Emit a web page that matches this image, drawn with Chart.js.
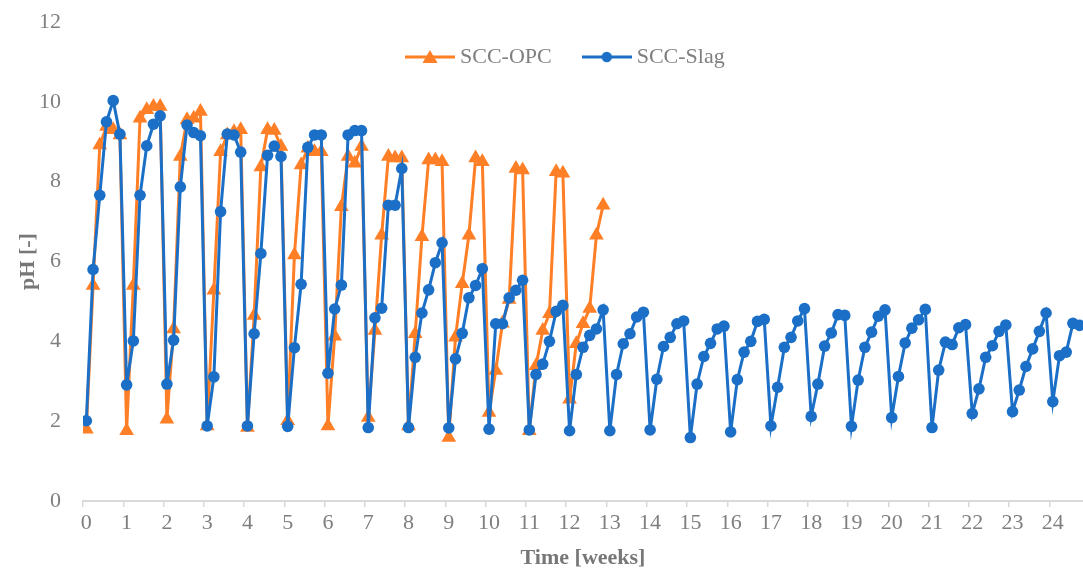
<!DOCTYPE html>
<html>
<head>
<meta charset="utf-8">
<script src="https://cdn.jsdelivr.net/npm/chart.js@4.4.1/dist/chart.umd.min.js"></script>
<style>
  html, body { margin: 0; padding: 0; background: #ffffff; }
  #wrap { width: 1083px; height: 574px; position: relative; }
</style>
</head>
<body>
<div id="wrap"><canvas id="c"></canvas></div>
<script>
// ---- data (6 samples per week) ----
const weekTicks = ['0','1','2','3','4','5','6','7','8','9','10','11','12','13','14','15','16','17','18','19','20','21','22','23','24'];
const samplesPerWeek = 6;
const lastVisibleSample = 148;   // the plotted x range ends here (picture is cut at the right edge)

const sccOpc = [
  1.80, 5.40, 8.92, 9.38, 9.30, 9.17,
  1.76, 5.40, 9.59, 9.80, 9.88, 9.88,
  2.05, 4.31, 8.63, 9.55, 9.59, 9.76,
  1.88, 5.28, 8.75, 9.17, 9.25, 9.30,
  1.84, 4.65, 8.37, 9.30, 9.28, 8.88,
  2.01, 6.16, 8.42, 8.84, 8.75, 8.75,
  1.88, 4.13, 7.37, 8.63, 8.46, 8.88,
  2.09, 4.27, 6.66, 8.63, 8.59, 8.59,
  1.88, 4.19, 6.62, 8.54, 8.54, 8.50,
  1.59, 4.10, 5.44, 6.66, 8.59, 8.50,
  2.22, 3.27, 4.45, 5.05, 8.33, 8.29,
  1.76, 3.39, 4.27, 4.69, 8.25, 8.21,
  2.55, 3.94, 4.44, 4.82, 6.66, 7.41
];

const sccSlag = [
  2.01, 5.80, 7.66, 9.50, 10.03, 9.19,
  2.91, 4.01, 7.66, 8.90, 9.44, 9.65,
  2.93, 4.03, 7.87, 9.42, 9.23, 9.15,
  1.88, 3.11, 7.25, 9.19, 9.17, 8.74,
  1.88, 4.19, 6.20, 8.66, 8.89, 8.63,
  1.87, 3.84, 5.43, 8.86, 9.17, 9.17,
  3.20, 4.81, 5.41, 9.17, 9.28, 9.28,
  1.84, 4.59, 4.83, 7.41, 7.41, 8.33,
  1.84, 3.60, 4.71, 5.29, 5.97, 6.47,
  1.83, 3.56, 4.20, 5.09, 5.40, 5.82,
  1.80, 4.44, 4.44, 5.09, 5.28, 5.53,
  1.78, 3.17, 3.43, 4.00, 4.75, 4.90,
  1.76, 3.17, 3.85, 4.15, 4.31, 4.79,
  1.76, 3.17, 3.94, 4.19, 4.61, 4.73,
  1.78, 3.05, 3.87, 4.10, 4.44, 4.51,
  1.59, 2.93, 3.62, 3.95, 4.31, 4.38,
  1.73, 3.04, 3.73, 4.00, 4.50, 4.55,
  1.88, 2.85, 3.85, 4.10, 4.51, 4.82,
  2.12, 2.93, 3.88, 4.21, 4.67, 4.65,
  1.87, 3.03, 3.85, 4.23, 4.63, 4.79,
  2.09, 3.12, 3.96, 4.33, 4.54, 4.80,
  1.84, 3.28, 3.98, 3.92, 4.34, 4.42,
  2.19, 2.81, 3.60, 3.89, 4.25, 4.41,
  2.24, 2.78, 3.37, 3.81, 4.25, 4.71,
  2.49, 3.64, 3.73, 4.45, 4.40, 4.72
];

// sample index categories (one per measurement)
const sampleIndex = sccSlag.map((_, i) => i);

// ---- styling ----
const ORANGE = '#FF7F27';
const BLUE = '#1B6FC6';
const TEXT = '#7f7f7f';
const TITLE = '#777777';
const AXIS = '#d9d9d9';
const FONT = "'Liberation Serif', 'Times New Roman', serif";

function makeIcon(color, shape) {
  const c = document.createElement('canvas');
  c.width = 50; c.height = 18;
  const g = c.getContext('2d');
  g.strokeStyle = color; g.lineWidth = 3;
  g.beginPath(); g.moveTo(0, 9); g.lineTo(50, 9); g.stroke();
  g.fillStyle = color;
  g.beginPath();
  if (shape === 'triangle') {
    g.moveTo(25, 2); g.lineTo(32.5, 15); g.lineTo(17.5, 15); g.closePath();
  } else {
    g.arc(25, 9, 5.2, 0, Math.PI * 2);
  }
  g.fill();
  return c;
}
const icons = [makeIcon(ORANGE, 'triangle'), makeIcon(BLUE, 'circle')];

const LEGEND_PAD = 36;
const LEGEND_CENTER_Y = 57;
const LEGEND_FIRST_X = 411;

// lets the legend float over the plot (as in the original) instead of taking layout space
const legendOverlay = {
  id: 'legendOverlay',
  beforeLayout(chart) {
    const lg = chart.legend;
    if (lg && !lg.__patched) {
      const fit = lg.fit;
      lg.fit = function () { fit.call(this); this.__h = this.height; this.height = 0; };
      lg.__patched = true;
    }
  },
  afterLayout(chart) {
    const lg = chart.legend;
    if (!lg || !lg.lineWidths) return;
    const h = lg.__h || 40;
    lg.top = LEGEND_CENTER_Y - LEGEND_PAD - 11;
    lg.height = h;
    lg.bottom = lg.top + h;
    const cur = (lg.left + LEGEND_PAD + lg.right - lg.lineWidths[0]) / 2;
    const d = LEGEND_FIRST_X - cur;
    lg.left += d; lg.right += d;
  }
};

new Chart(document.getElementById('c'), {
  type: 'line',
  data: {
    labels: sampleIndex,
    datasets: [
      {
        label: 'SCC-OPC',
        data: sccOpc,
        borderColor: ORANGE,
        backgroundColor: ORANGE,
        borderWidth: 3,
        pointStyle: 'triangle',
        pointRadius: 8.5,
        pointBorderWidth: 0,
        pointBackgroundColor: ORANGE,
        tension: 0,
        order: 2
      },
      {
        label: 'SCC-Slag',
        data: sccSlag,
        borderColor: BLUE,
        backgroundColor: BLUE,
        borderWidth: 3,
        pointStyle: 'circle',
        pointRadius: 5.8,
        pointBorderWidth: 0,
        pointBackgroundColor: BLUE,
        tension: 0,
        order: 1
      }
    ]
  },
  options: {
    responsive: true,
    maintainAspectRatio: false,
    devicePixelRatio: 1,
    animation: false,
    layout: { autoPadding: false, padding: { top: 22, left: 0, right: 0, bottom: 0 } },
    plugins: {
      tooltip: { enabled: false },
      legend: {
        display: true,
        position: 'top',
        align: 'center',
        labels: {
          usePointStyle: true,
          pointStyleWidth: 38,
          padding: LEGEND_PAD,
          color: TEXT,
          font: { family: FONT, size: 22 },
          generateLabels: (chart) => chart.data.datasets.map((ds, i) => ({
            text: ds.label,
            fillStyle: ds.borderColor,
            strokeStyle: ds.borderColor,
            lineWidth: 0,
            pointStyle: icons[i],
            hidden: false,
            datasetIndex: i,
            fontColor: TEXT
          }))
        }
      }
    },
    scales: {
      x: {
        type: 'category',
        offset: true,
        min: 0,
        max: lastVisibleSample,
        grid: {
          display: true,
          offset: true,
          drawOnChartArea: false,
          drawTicks: true,
          tickLength: 6,
          lineWidth: 1.5,
          color: (ctx) => (ctx.index % samplesPerWeek === 0 ? AXIS : 'rgba(0,0,0,0)')
        },
        border: { display: true, color: AXIS, width: 2 },
        ticks: {
          autoSkip: false,
          maxRotation: 0,
          minRotation: 0,
          padding: 3,
          color: TEXT,
          font: { family: FONT, size: 22 },
          callback: (value, index) => (index % samplesPerWeek === 0 ? (weekTicks[index / samplesPerWeek] ?? '') : '')
        },
        title: {
          display: true,
          text: 'Time [weeks]',
          color: TITLE,
          font: { family: FONT, size: 22, weight: 'bold' },
          padding: { top: 0, bottom: 2 }
        },
        afterFit: (scale) => { scale.height = 73; scale.paddingLeft = 0; scale.paddingRight = 0; }
      },
      y: {
        min: 0,
        max: 12,
        ticks: {
          stepSize: 2,
          padding: 22,
          color: TEXT,
          font: { family: FONT, size: 22 }
        },
        grid: { display: false, drawTicks: false },
        border: { display: false },
        title: {
          display: true,
          text: 'pH [-]',
          color: TITLE,
          font: { family: FONT, size: 22, weight: 'bold' },
          padding: { top: 15, bottom: 0 }
        },
        afterFit: (scale) => { scale.width = 83; scale.paddingTop = 0; scale.paddingBottom = 0; }
      }
    }
  },
  plugins: [legendOverlay]
});
</script>
</body>
</html>
